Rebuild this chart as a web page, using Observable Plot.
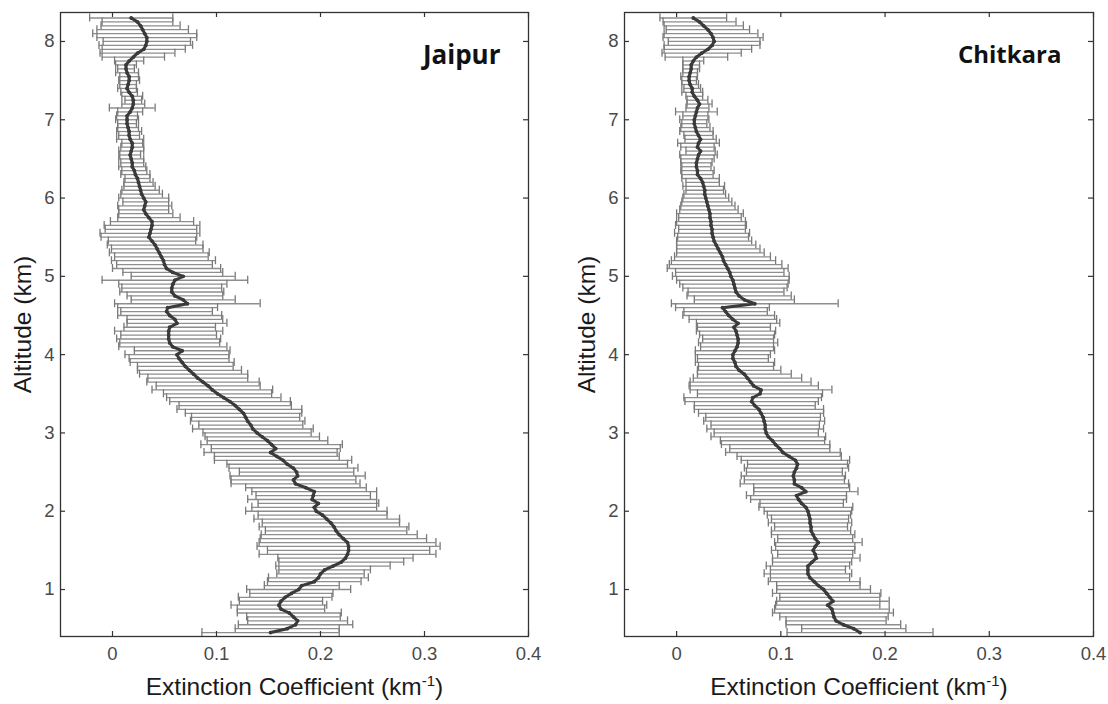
<!DOCTYPE html>
<html>
<head>
<meta charset="utf-8">
<script src="https://cdn.jsdelivr.net/npm/d3@7"></script>
<script src="https://cdn.jsdelivr.net/npm/@observablehq/plot@0.6"></script>
<style>
  html, body { margin: 0; padding: 0; background: #fff; }
  #wrap { position: relative; width: 1108px; height: 704px; overflow: hidden; }
  .panel { position: absolute; top: 0; }
  .panel svg { font-family: Arial, "Liberation Sans", sans-serif !important; }
</style>
</head>
<body>
<div id="wrap">
  <div id="p1" class="panel" style="left:0px"></div>
  <div id="p2" class="panel" style="left:554px"></div>
</div>
<script>
// Altitude levels (km)
const altitude = [
  0.45,0.50,0.55,0.60,0.65,0.70,0.75,0.80,0.85,0.90,
  0.95,1.00,1.05,1.10,1.15,1.20,1.25,1.30,1.35,1.40,
  1.45,1.50,1.55,1.60,1.65,1.70,1.75,1.80,1.85,1.90,
  1.95,2.00,2.05,2.10,2.15,2.20,2.25,2.30,2.35,2.40,
  2.45,2.50,2.55,2.60,2.65,2.70,2.75,2.80,2.85,2.90,
  2.95,3.00,3.05,3.10,3.15,3.20,3.25,3.30,3.35,3.40,
  3.45,3.50,3.55,3.60,3.65,3.70,3.75,3.80,3.85,3.90,
  3.95,4.00,4.05,4.10,4.15,4.20,4.25,4.30,4.35,4.40,
  4.45,4.50,4.55,4.60,4.65,4.70,4.75,4.80,4.85,4.90,
  4.95,5.00,5.05,5.10,5.15,5.20,5.25,5.30,5.35,5.40,
  5.45,5.50,5.55,5.60,5.65,5.70,5.75,5.80,5.85,5.90,
  5.95,6.00,6.05,6.10,6.15,6.20,6.25,6.30,6.35,6.40,
  6.45,6.50,6.55,6.60,6.65,6.70,6.75,6.80,6.85,6.90,
  6.95,7.00,7.05,7.10,7.15,7.20,7.25,7.30,7.35,7.40,
  7.45,7.50,7.55,7.60,7.65,7.70,7.75,7.80,7.85,7.90,
  7.95,8.00,8.05,8.10,8.15,8.20,8.25,8.30
];

// Jaipur mean extinction coefficient (km^-1)
const jaipurMean = [
  0.152,0.168,0.176,0.178,0.174,0.170,0.162,0.160,0.162,0.166,
  0.172,0.179,0.182,0.194,0.198,0.200,0.204,0.212,0.220,0.224,
  0.226,0.227,0.227,0.226,0.222,0.218,0.215,0.213,0.210,0.206,
  0.202,0.196,0.194,0.198,0.192,0.193,0.194,0.186,0.176,0.174,
  0.178,0.177,0.174,0.168,0.164,0.158,0.152,0.157,0.153,0.149,
  0.144,0.139,0.135,0.133,0.130,0.128,0.126,0.122,0.118,0.113,
  0.107,0.101,0.096,0.092,0.087,0.082,0.078,0.074,0.070,0.067,
  0.064,0.062,0.067,0.058,0.055,0.054,0.054,0.054,0.055,0.062,
  0.060,0.055,0.052,0.053,0.072,0.068,0.060,0.057,0.057,0.058,
  0.060,0.068,0.058,0.052,0.050,0.049,0.047,0.045,0.043,0.041,
  0.038,0.035,0.036,0.037,0.038,0.038,0.035,0.032,0.030,0.031,
  0.032,0.030,0.028,0.027,0.026,0.025,0.024,0.022,0.021,0.019,
  0.019,0.018,0.017,0.018,0.019,0.019,0.017,0.016,0.016,0.015,
  0.014,0.014,0.014,0.017,0.019,0.020,0.020,0.019,0.016,0.014,
  0.015,0.016,0.016,0.014,0.013,0.013,0.016,0.020,0.024,0.030,
  0.032,0.033,0.033,0.031,0.029,0.027,0.024,0.018
];
// Jaipur standard deviation (error bar half-width)
const jaipurErr = [
  0.066,0.050,0.055,0.048,0.045,0.050,0.042,0.046,0.040,0.045,
  0.040,0.050,0.036,0.045,0.048,0.042,0.044,0.055,0.060,0.065,
  0.085,0.078,0.088,0.085,0.080,0.075,0.068,0.072,0.066,0.070,
  0.062,0.068,0.060,0.058,0.062,0.055,0.060,0.058,0.062,0.060,
  0.065,0.055,0.062,0.058,0.066,0.060,0.064,0.062,0.068,0.058,
  0.055,0.052,0.058,0.050,0.055,0.052,0.056,0.060,0.054,0.058,
  0.055,0.052,0.058,0.050,0.054,0.048,0.052,0.050,0.046,0.050,
  0.048,0.050,0.046,0.052,0.048,0.050,0.046,0.052,0.044,0.048,
  0.046,0.050,0.044,0.048,0.070,0.050,0.046,0.050,0.048,0.052,
  0.070,0.050,0.048,0.052,0.046,0.050,0.045,0.048,0.044,0.046,
  0.042,0.046,0.048,0.044,0.046,0.040,0.030,0.026,0.024,0.026,
  0.022,0.024,0.020,0.018,0.015,0.014,0.012,0.014,0.012,0.013,
  0.011,0.012,0.010,0.012,0.011,0.010,0.013,0.010,0.012,0.010,
  0.009,0.011,0.010,0.012,0.022,0.011,0.008,0.010,0.008,0.009,
  0.008,0.010,0.009,0.011,0.008,0.010,0.014,0.030,0.036,0.040,
  0.045,0.042,0.048,0.050,0.044,0.038,0.034,0.040
];

// Chitkara mean extinction coefficient (km^-1)
const chitkaraMean = [
  0.176,0.170,0.160,0.153,0.151,0.150,0.149,0.145,0.150,0.147,
  0.144,0.141,0.136,0.132,0.128,0.126,0.126,0.126,0.130,0.134,
  0.133,0.131,0.133,0.136,0.133,0.131,0.129,0.129,0.128,0.128,
  0.127,0.126,0.124,0.120,0.117,0.115,0.124,0.120,0.113,0.113,
  0.112,0.113,0.115,0.116,0.114,0.108,0.102,0.099,0.095,0.092,
  0.088,0.086,0.085,0.085,0.084,0.083,0.081,0.079,0.075,0.072,
  0.073,0.080,0.081,0.074,0.071,0.068,0.065,0.060,0.057,0.056,
  0.054,0.054,0.056,0.058,0.059,0.059,0.058,0.057,0.055,0.059,
  0.054,0.050,0.047,0.044,0.075,0.065,0.060,0.057,0.056,0.055,
  0.054,0.052,0.051,0.049,0.047,0.045,0.044,0.042,0.040,0.038,
  0.036,0.035,0.034,0.034,0.033,0.033,0.032,0.032,0.031,0.030,
  0.029,0.028,0.027,0.027,0.026,0.025,0.023,0.020,0.020,0.019,
  0.019,0.020,0.021,0.023,0.020,0.021,0.023,0.021,0.019,0.018,
  0.017,0.017,0.018,0.019,0.020,0.022,0.020,0.017,0.015,0.015,
  0.013,0.012,0.012,0.013,0.014,0.014,0.016,0.019,0.024,0.030,
  0.034,0.036,0.035,0.033,0.030,0.026,0.022,0.016
];
// Chitkara standard deviation (error bar half-width)
const chitkaraErr = [
  0.070,0.050,0.055,0.048,0.052,0.058,0.055,0.050,0.054,0.048,
  0.052,0.045,0.040,0.044,0.038,0.042,0.036,0.040,0.038,0.042,
  0.036,0.040,0.038,0.042,0.036,0.040,0.038,0.035,0.040,0.037,
  0.040,0.042,0.045,0.040,0.046,0.048,0.050,0.046,0.052,0.048,
  0.050,0.046,0.050,0.048,0.052,0.050,0.055,0.048,0.052,0.050,
  0.055,0.050,0.056,0.052,0.058,0.055,0.060,0.062,0.058,0.064,
  0.066,0.060,0.068,0.062,0.058,0.052,0.045,0.040,0.036,0.038,
  0.034,0.036,0.038,0.035,0.038,0.034,0.036,0.038,0.035,0.040,
  0.042,0.044,0.040,0.045,0.080,0.048,0.050,0.046,0.050,0.052,
  0.054,0.056,0.052,0.058,0.054,0.050,0.046,0.042,0.040,0.038,
  0.036,0.034,0.036,0.032,0.034,0.033,0.030,0.032,0.028,0.026,
  0.024,0.022,0.020,0.018,0.020,0.016,0.018,0.015,0.016,0.014,
  0.015,0.016,0.018,0.014,0.016,0.020,0.015,0.014,0.016,0.014,
  0.012,0.014,0.012,0.020,0.011,0.012,0.010,0.008,0.010,0.008,
  0.008,0.007,0.008,0.007,0.008,0.008,0.010,0.030,0.038,0.042,
  0.046,0.044,0.048,0.045,0.040,0.038,0.035,0.032
];

const xTicks = [0, 0.1, 0.2, 0.3, 0.4];
const yTicks = [1, 2, 3, 4, 5, 6, 7, 8];
const xLabel = "Extinction Coefficient (km-1)";
const yLabel = "Altitude (km)";

function panel({mean, err, name, marginLeft, marginRight, nameDx, nameSize}) {
  const data = altitude.map((a, i) => ({alt: a, mean: mean[i], lo: mean[i] - err[i], hi: mean[i] + err[i]}));
  const width = 554, height = 704, marginTop = 12, marginBottom = 68;
  const H = height - marginTop - marginBottom;
  const W = width - marginLeft - marginRight;
  const barColor = "#8e8e8e";
  const ink = "#3a3a3a";
  const svg = Plot.plot({
    width, height, marginLeft, marginRight, marginTop, marginBottom,
    x: {domain: [-0.05, 0.4]},
    y: {domain: [0.4, 8.37]},
    style: {background: "#fff", overflow: "visible"},
    marks: [
      Plot.ruleY(data, {y: "alt", x1: "lo", x2: "hi", stroke: barColor, strokeWidth: 1.3, clip: true}),
      Plot.ruleX(data, {x: "lo", y1: "alt", y2: "alt", insetTop: -4, insetBottom: -4, stroke: "#7a7a7a", strokeWidth: 1.3, clip: true}),
      Plot.ruleX(data, {x: "hi", y1: "alt", y2: "alt", insetTop: -4, insetBottom: -4, stroke: "#7a7a7a", strokeWidth: 1.3, clip: true}),
      Plot.line(data, {x: "mean", y: "alt", stroke: ink, strokeWidth: 3}),
      Plot.dot(data, {x: "mean", y: "alt", r: 1.9, fill: ink, stroke: "none"}),
      Plot.frame({stroke: "#333", strokeWidth: 1.3}),
      Plot.ruleX(xTicks, {x: d => d, insetTop: H - 5, stroke: "#333", strokeWidth: 1.2}),
      Plot.ruleX(xTicks, {x: d => d, insetBottom: H - 5, stroke: "#333", strokeWidth: 1.2}),
      Plot.ruleY(yTicks, {y: d => d, insetRight: W - 5, stroke: "#333", strokeWidth: 1.2}),
      Plot.ruleY(yTicks, {y: d => d, insetLeft: W - 5, stroke: "#333", strokeWidth: 1.2}),
      Plot.axisX({ticks: xTicks, tickSize: 0, tickPadding: 10, fontSize: 18.5, fill: "#4a4a4a", tickFormat: d => String(d), label: null}),
      Plot.axisY({ticks: yTicks, tickSize: 0, tickPadding: 6, fontSize: 18.5, fill: "#4a4a4a", tickFormat: d => String(d), label: null}),
      Plot.text([name], {frameAnchor: "top-right", dx: nameDx, dy: 33, textAnchor: "end", lineAnchor: "top",
        fontSize: nameSize, fontWeight: "bold", fontFamily: "'Open Sans', Lato, sans-serif", fill: "#111"}),
      Plot.text([yLabel], {frameAnchor: "left", rotate: -90, dx: -37, textAnchor: "middle", fontSize: 24.5, fill: "#1a1a1a"}),
      Plot.text([xLabel], {frameAnchor: "bottom", dy: 51, textAnchor: "middle", lineAnchor: "middle", fontSize: 24.5, fill: "#1a1a1a"})
    ]
  });
  // render the "-1" of km-1 as a superscript
  for (const t of svg.querySelectorAll("text")) {
    if (t.textContent === xLabel) {
      const ns = "http://www.w3.org/2000/svg";
      t.textContent = "";
      const a = document.createElementNS(ns, "tspan");
      a.textContent = "Extinction Coefficient (km";
      const b = document.createElementNS(ns, "tspan");
      b.textContent = "-1";
      b.setAttribute("dy", "-9");
      b.setAttribute("font-size", "15");
      const c = document.createElementNS(ns, "tspan");
      c.textContent = ")";
      c.setAttribute("dy", "9");
      t.append(a, b, c);
    }
  }
  return svg;
}

document.getElementById("p1").append(panel({mean: jaipurMean, err: jaipurErr, name: "Jaipur", marginLeft: 60, marginRight: 26, nameDx: -28, nameSize: 26}));
document.getElementById("p2").append(panel({mean: chitkaraMean, err: chitkaraErr, name: "Chitkara", marginLeft: 70, marginRight: 15, nameDx: -32, nameSize: 24}));
</script>
</body>
</html>
